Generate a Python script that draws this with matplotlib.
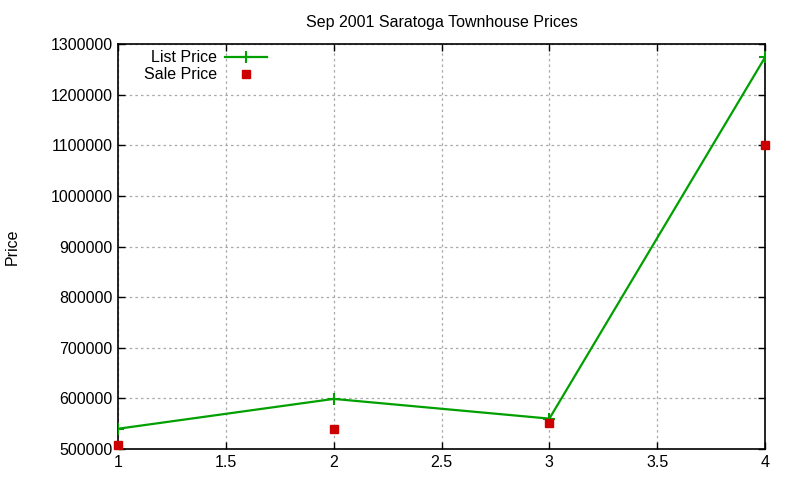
import matplotlib
matplotlib.use("Agg")
import matplotlib.pyplot as plt
from matplotlib.lines import Line2D

x = [1, 2, 3, 4]
list_price = [540000, 599000, 560000, 1274000]
sale_price = [507000, 539000, 552000, 1100000]
yticks = [500000, 600000, 700000, 800000, 900000, 1000000, 1100000, 1200000, 1300000]
xticks = [1, 1.5, 2, 2.5, 3, 3.5, 4]

plt.rcParams['font.family'] = ['Liberation Sans', 'DejaVu Sans']
fig = plt.figure(figsize=(8, 4.8), dpi=100)
ax = fig.add_axes([0.1475, 0.0646, 0.8088, 0.8434])

green = '#00a000'
red = '#cc0000'
fs = 11.5
ax.plot(x, list_price, color=green, lw=1.6, marker='+', ms=9, mew=1.5, zorder=3)
ax.plot(x, sale_price, ls='none', color=red, marker='s', ms=6, zorder=4, clip_on=False)

ax.set_xlim(1, 4)
ax.set_ylim(500000, 1300000)
ax.set_xticks(xticks)
ax.set_xticklabels(['1', '1.5', '2', '2.5', '3', '3.5', '4'])
ax.set_yticks(yticks)
ax.set_yticklabels([str(v) for v in yticks])
ax.tick_params(direction='in', length=5, width=1, labelsize=fs, top=True, right=True, pad=4)
for s in ax.spines.values():
    s.set_linewidth(1.2)
ax.grid(True, color='#a8a8a8', ls=(0, (2, 2.5)), lw=0.9)
ax.set_axisbelow(True)

ax.set_title('Sep 2001 Saratoga Townhouse Prices', fontsize=fs, pad=12)
ax.set_ylabel('Price', fontsize=fs, labelpad=22)

handles = [Line2D([0], [0], color=green, lw=1.6, marker='+', ms=9, mew=1.5),
           Line2D([0], [0], ls='none', color=red, marker='s', ms=6)]
leg = ax.legend(handles, ['List Price', 'Sale Price'], loc='upper left',
                bbox_to_anchor=(0.024, 1.01), frameon=False, markerfirst=False,
                fontsize=fs, handlelength=2.6, handletextpad=0.5, labelspacing=0.12,
                borderaxespad=0.25)

fig.savefig('out.png', dpi=100)
